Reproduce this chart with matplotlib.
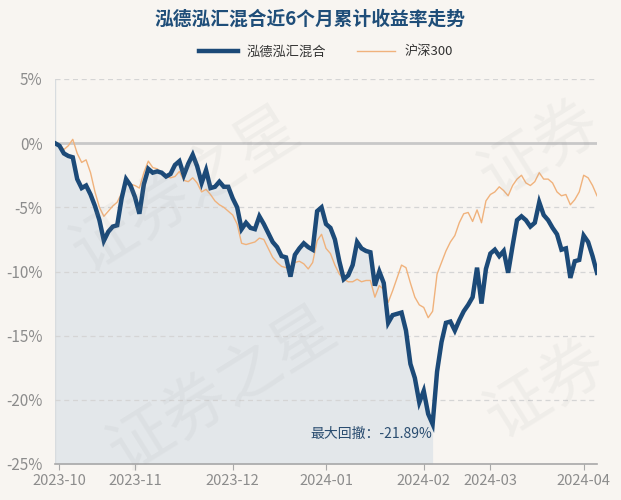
import numpy as np
import pandas as pd
import matplotlib
matplotlib.use("Agg")
import matplotlib.pyplot as plt

plt.rcParams['font.family'] = ['Noto Sans CJK SC', 'DejaVu Sans']

title = "泓德泓汇混合近6个月累计收益率走势"
fund_name = "泓德泓汇混合"
index_name = "沪深300"

# trading days, 2023-09-28 .. 2024-04-08
holidays = ["2023-09-29", "2023-10-02", "2023-10-03", "2023-10-04", "2023-10-05", "2023-10-06",
            "2024-01-01", "2024-02-09", "2024-02-12", "2024-02-13", "2024-02-14", "2024-02-15",
            "2024-02-16", "2024-04-04", "2024-04-05"]
dates = pd.bdate_range("2023-09-28", "2024-04-08")
dates = dates[~dates.isin(pd.to_datetime(holidays))]

# cumulative return, %
fund = [0.0, -0.2, -0.8, -1.0, -1.1, -2.8, -3.5, -3.3, -4.0, -4.9,
        -6.0, -7.6, -6.9, -6.5, -6.4, -4.3, -2.8, -3.3, -4.2, -5.5,
        -3.2, -2.0, -2.3, -2.2, -2.3, -2.6, -2.4, -1.7, -1.4, -2.5,
        -1.6, -0.9, -1.8, -3.1, -2.1, -3.5, -3.4, -3.0, -3.4, -3.4,
        -4.3, -5.0, -6.7, -6.2, -6.6, -6.7, -5.7, -6.3, -7.0, -7.7,
        -8.1, -8.8, -8.9, -10.4, -8.7, -8.2, -7.8, -8.1, -8.3, -5.3,
        -5.0, -6.3, -6.6, -7.5, -9.2, -10.6, -10.3, -9.5, -7.7, -8.2,
        -8.4, -8.5, -11.1, -10.0, -10.9, -14.0, -13.4, -13.3, -13.2, -14.6,
        -17.2, -18.3, -20.2, -19.3, -21.1, -21.89, -17.8, -15.5, -14.0, -13.9,
        -14.6, -13.8, -13.1, -12.6, -12.0, -9.7, -12.5, -9.8, -8.6, -8.3,
        -8.8, -8.4, -10.1, -8.0, -6.0, -5.7, -6.0, -6.5, -6.2, -4.6,
        -5.6, -6.0, -6.6, -7.1, -8.3, -8.2, -10.5, -9.2, -9.1, -7.2,
        -7.7, -8.8, -10.1]
hs300 = [0.0, -0.1, -0.5, -0.2, 0.3, -0.8, -1.5, -1.3, -2.3, -3.8,
         -5.0, -5.7, -5.3, -4.9, -4.6, -3.9, -3.1, -3.2, -3.3, -3.5,
         -2.3, -1.4, -1.9, -2.0, -2.3, -2.6, -2.7, -2.6, -2.2, -2.9,
         -3.0, -2.7, -3.1, -3.8, -3.6, -4.0, -4.5, -4.8, -5.0, -5.3,
         -5.6, -6.3, -7.8, -7.9, -7.8, -7.7, -7.4, -7.5, -8.2, -8.9,
         -9.3, -9.6, -9.7, -9.6, -9.3, -9.2, -9.4, -9.8, -9.3, -7.6,
         -7.1, -8.2, -8.6, -9.5, -10.2, -10.6, -10.8, -10.8, -10.6, -10.8,
         -10.7, -10.7, -12.0, -11.1, -11.4, -12.4, -11.5, -10.5, -9.5, -9.7,
         -10.9, -12.0, -12.6, -12.8, -13.6, -13.1, -10.2, -9.3, -8.4, -7.7,
         -7.2, -6.2, -5.5, -5.4, -6.1, -5.2, -6.2, -4.5, -4.0, -3.8,
         -3.4, -3.7, -4.1, -3.3, -2.8, -2.5, -3.1, -3.3, -3.0, -2.3,
         -2.8, -2.8, -3.1, -3.8, -4.1, -4.0, -4.8, -4.4, -3.8, -2.5,
         -2.7, -3.3, -4.1]

yticks = [5, 0, -5, -10, -15, -20, -25]

fund = np.array(fund)
hs300 = np.array(hs300)
x = np.arange(len(dates))

# max drawdown window: from running peak to trough
peak = np.maximum.accumulate(fund)
dd = (1 + fund / 100) / (1 + peak / 100) - 1
trough = int(np.argmin(dd))
start = int(np.argmax(fund[:trough + 1]))
mdd = dd[trough] * 100

bg = "#f8f5f1"
fig = plt.figure(figsize=(6.21, 5.0), dpi=100, facecolor=bg)
ax = fig.add_axes([55 / 621, 1 - 464 / 500, 542 / 621, 385 / 500], facecolor=bg)

# faint watermark
for (wx, wy, txt) in [(0.30, 0.62, "证券之星"), (0.36, 0.22, "证券之星"),
                      (0.87, 0.70, "证券"), (0.88, 0.22, "证券")]:
    fig.text(wx, wy, txt, fontsize=46, color="#9a9a9a", alpha=0.09,
             rotation=32, ha="center", va="center", zorder=0)

ax.fill_between(x[start:trough + 1], fund[start:trough + 1], -25, color="#e3e7ea", zorder=1, lw=0)
ax.axvline(x[start], color="#d8dcdf", lw=1, zorder=1)

for v in yticks:
    if v == 0:
        ax.axhline(v, color="#c8c8c8", lw=2, zorder=2)
    elif v != -25:
        ax.axhline(v, color="#d5d5d5", lw=0.9, ls=(0, (4, 3)), zorder=2)

ax.plot(x, hs300, color="#f0b27c", lw=1.0, zorder=3, label=index_name)
ax.plot(x, fund, color="#1c4a78", lw=3.2, zorder=4, label=fund_name, solid_joinstyle="miter")

ax.text(x[trough] - 0.2, mdd - 0.2, "最大回撤：%.2f%%" % mdd, color="#2a4d70", fontsize=10,
        ha="right", va="top", zorder=5)

ax.set_xlim(0, len(x) - 1)
ax.set_ylim(-25, 5)
ax.set_yticks(yticks)
ax.set_yticklabels(["%d%%" % v for v in yticks])

month_first = pd.Series(x, index=dates).groupby(dates.to_period("M")).first()
month_first = month_first[month_first.index >= pd.Period("2023-10")]
ax.set_xticks(month_first.values)
ax.set_xticklabels([str(p) for p in month_first.index])

for s in ["top", "right", "left"]:
    ax.spines[s].set_visible(False)
ax.spines["bottom"].set_color("#a8a8a8")
ax.spines["bottom"].set_linewidth(1.2)
ax.tick_params(axis="y", length=0, labelsize=11, labelcolor="#8c8c8c", pad=9)
ax.tick_params(axis="x", length=4, color="#a8a8a8", labelsize=10.5, labelcolor="#8c8c8c", pad=3)

handles, labels = ax.get_legend_handles_labels()
fig.legend(handles[::-1], labels[::-1], loc="center", bbox_to_anchor=(0.525, 1 - 52 / 500), ncol=2,
           frameon=False, fontsize=9.5, handlelength=2.9, handletextpad=0.7, columnspacing=2.3,
           labelcolor="#333333")

fig.text(0.5, 1 - 19 / 500, title, ha="center", va="center", fontsize=13.5, fontweight="bold",
         color="#1f4e79")

fig.savefig("out.png", dpi=100, facecolor=bg)
